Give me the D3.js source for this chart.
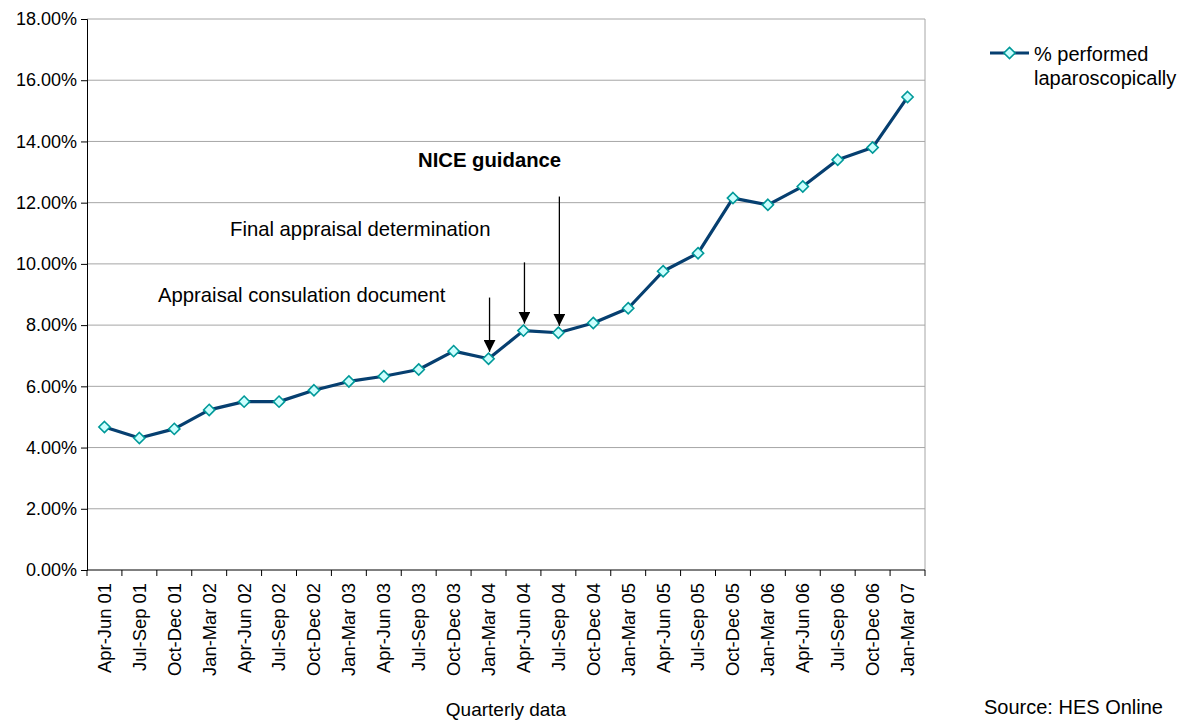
<!DOCTYPE html>
<html>
<head>
<meta charset="utf-8">
<script src="https://cdn.jsdelivr.net/npm/d3@7"></script>
<style>
    body { margin: 0; background: #fff; }
    text { font-family: "Liberation Sans", Arial, sans-serif; fill: #000; }
</style>
</head>
<body>
<svg id="chart" width="1193" height="720"></svg>
<script>
// quarterly categories
const quarters = ["Apr-Jun 01", "Jul-Sep 01", "Oct-Dec 01", "Jan-Mar 02", "Apr-Jun 02", "Jul-Sep 02",
    "Oct-Dec 02", "Jan-Mar 03", "Apr-Jun 03", "Jul-Sep 03", "Oct-Dec 03", "Jan-Mar 04",
    "Apr-Jun 04", "Jul-Sep 04", "Oct-Dec 04", "Jan-Mar 05", "Apr-Jun 05", "Jul-Sep 05",
    "Oct-Dec 05", "Jan-Mar 06", "Apr-Jun 06", "Jul-Sep 06", "Oct-Dec 06", "Jan-Mar 07"];
// % performed laparoscopically
const pctLap = [4.67, 4.31, 4.61, 5.23, 5.50, 5.50, 5.87, 6.16, 6.33, 6.55, 7.15, 6.90,
    7.82, 7.75, 8.07, 8.55, 9.76, 10.35, 12.15, 11.93, 12.53, 13.40, 13.80, 15.45];
const yTicks = [0, 2, 4, 6, 8, 10, 12, 14, 16, 18];
// annotations: text, anchor quarter for arrow, arrow top value (%)
const notes = [
    {label: "Appraisal consulation document", q: "Jan-Mar 04", top: 8.9, bold: false},
    {label: "Final appraisal determination", q: "Apr-Jun 04", top: 10.05, bold: false},
    {label: "NICE guidance", q: "Jul-Sep 04", top: 12.2, bold: true}
];

const svg = d3.select("#chart");
const m = {left: 87, top: 19, right: 925, bottom: 570};

let x = d3.scaleBand().domain(quarters).range([m.left, m.right]);
let y = d3.scaleLinear().domain([0, 18]).range([m.bottom, m.top]);

// gridlines
svg.append("g").selectAll("line").data(yTicks.slice(1))
    .join("line")
    .attr("x1", m.left).attr("x2", m.right)
    .attr("y1", d => y(d)).attr("y2", d => y(d))
    .attr("stroke", "#a6a6a6").attr("stroke-width", 1);
// right border
svg.append("line").attr("x1", m.right).attr("x2", m.right)
    .attr("y1", m.top).attr("y2", m.bottom)
    .attr("stroke", "#a6a6a6");

// y axis
let yAxis = d3.axisLeft(y).tickValues(yTicks).tickSize(6).tickPadding(4)
    .tickFormat(d => d.toFixed(2) + "%");
let gy = svg.append("g").attr("transform", "translate(" + m.left + ",0)").call(yAxis);
gy.selectAll("text").style("font-size", "18px");
gy.selectAll("line, path").attr("stroke", "#000");

// x axis (ticks between categories)
let xAxis = d3.axisBottom(x).tickSize(0).tickPadding(0);
let gx = svg.append("g").attr("transform", "translate(0," + m.bottom + ")").call(xAxis);
gx.select(".domain").attr("d", "M" + m.left + ",0H" + m.right).attr("stroke", "#000");
gx.selectAll("text")
    .style("font-size", "18.4px")
    .attr("text-anchor", "end")
    .attr("dy", "0.35em")
    .attr("transform", "translate(0,13) rotate(-90)")
    .attr("x", 0).attr("y", 0);
gx.selectAll(".sep").data(quarters.map((q, i) => i).concat([quarters.length]))
    .join("line").attr("class", "sep")
    .attr("x1", i => m.left + i * x.step()).attr("x2", i => m.left + i * x.step())
    .attr("y1", 0).attr("y2", 6).attr("stroke", "#000");

// series line
const cx = q => x(q) + x.bandwidth() / 2;
let line = d3.line().x((d, i) => cx(quarters[i])).y(d => y(d));
svg.append("path").datum(pctLap)
    .attr("d", line).attr("fill", "none")
    .attr("stroke", "#063f70").attr("stroke-width", 3.2).attr("stroke-linejoin", "round");

const diamond = d3.symbol().type(d3.symbolDiamond2).size(80);
svg.append("g").selectAll("path").data(pctLap)
    .join("path")
    .attr("d", diamond)
    .attr("transform", (d, i) => "translate(" + cx(quarters[i]) + "," + y(d) + ")")
    .attr("fill", "#ccffff").attr("stroke", "#009999").attr("stroke-width", 1.6);

// annotations
svg.append("defs").append("marker")
    .attr("id", "arr").attr("viewBox", "0 0 10 10").attr("refX", 10).attr("refY", 5)
    .attr("markerWidth", 12).attr("markerHeight", 12).attr("markerUnits", "userSpaceOnUse")
    .attr("orient", "auto")
    .append("path").attr("d", "M0,0L10,5L0,10z").attr("fill", "#000");

const labelPos = [{x: 158, y: 302}, {x: 230, y: 236}, {x: 418, y: 167}];
notes.forEach((n, i) => {
    let xi = quarters.indexOf(n.q);
    let px = cx(n.q) + 1;
    svg.append("line")
        .attr("x1", px).attr("x2", px)
        .attr("y1", y(n.top)).attr("y2", y(pctLap[xi]) - 7)
        .attr("stroke", "#000").attr("stroke-width", 1.3)
        .attr("marker-end", "url(#arr)");
    svg.append("text").attr("x", labelPos[i].x).attr("y", labelPos[i].y)
        .style("font-size", "20.3px")
        .style("font-weight", n.bold ? "bold" : "normal")
        .text(n.label);
});

// axis title and source
svg.append("text").attr("x", 506).attr("y", 716).attr("text-anchor", "middle")
    .style("font-size", "19px").text("Quarterly data");
svg.append("text").attr("x", 984).attr("y", 714)
    .style("font-size", "20px").text("Source: HES Online");

// legend
let lg = svg.append("g").attr("transform", "translate(990,53)");
lg.append("line").attr("x1", 0).attr("x2", 39).attr("y1", 0).attr("y2", 0)
    .attr("stroke", "#063f70").attr("stroke-width", 3.2);
lg.append("path").attr("d", diamond).attr("transform", "translate(19.5,0)")
    .attr("fill", "#ccffff").attr("stroke", "#009999").attr("stroke-width", 1.6);
lg.append("text").attr("x", 44).attr("y", 8).style("font-size", "20px").text("% performed");
lg.append("text").attr("x", 44).attr("y", 32).style("font-size", "20px").text("laparoscopically");
</script>
</body>
</html>
